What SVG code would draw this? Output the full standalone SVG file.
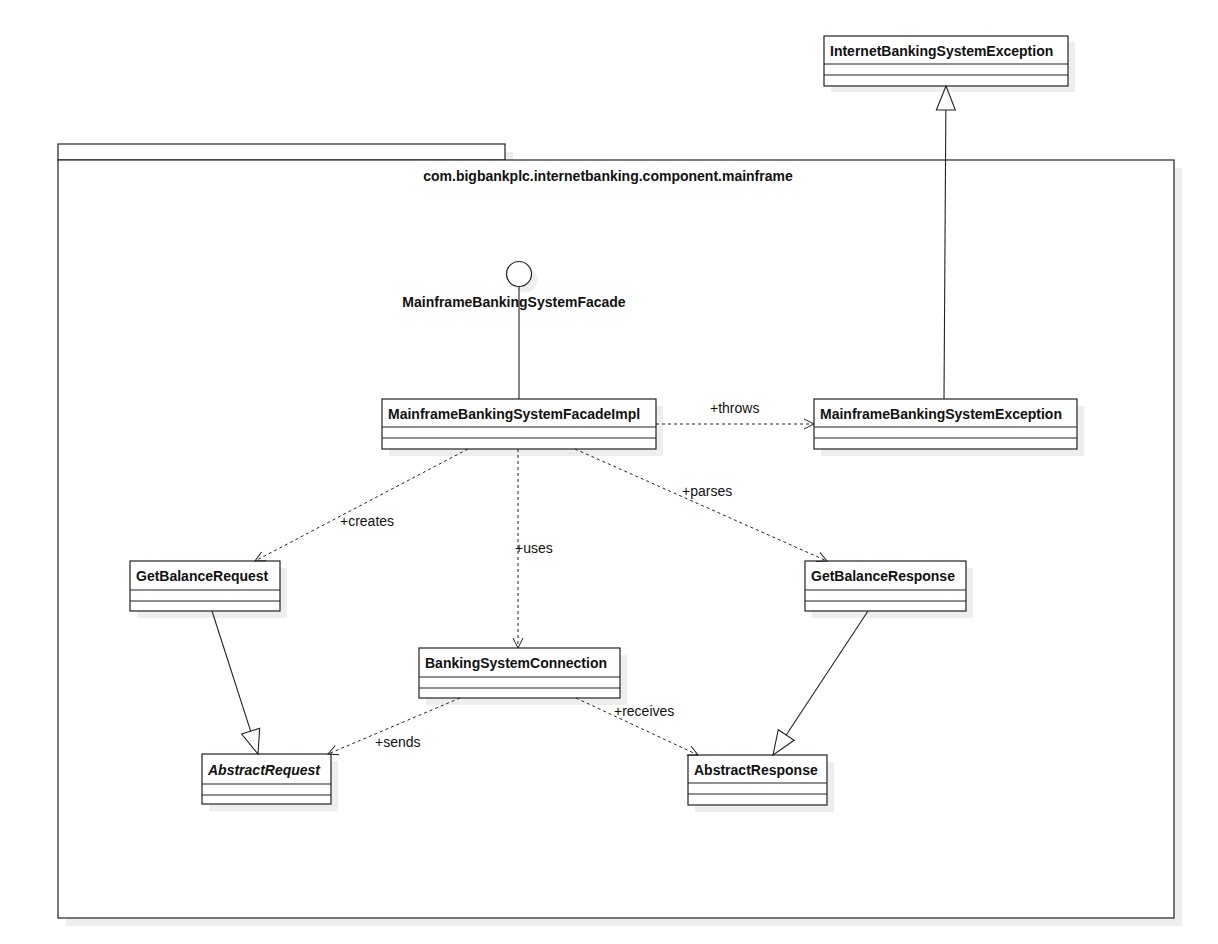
<svg xmlns="http://www.w3.org/2000/svg" width="1218" height="944" viewBox="0 0 1218 944">
<style>
  .shadow { fill: #eeeeee; stroke: none; }
  .box { fill: #ffffff; stroke: #222222; stroke-width: 1.2; }
  .div { stroke: #222222; stroke-width: 1.2; }
  .title { font-family: "Liberation Sans", Arial, sans-serif; font-size: 14px; font-weight: bold; fill: #111111; }
  .italic { font-style: italic; }
  .lbl { font-family: "Liberation Sans", Arial, sans-serif; font-size: 14px; fill: #111111; }
  .dep { fill: none; stroke: #222222; stroke-width: 1; stroke-dasharray: 3,3; marker-end: url(#open); }
  .gen { fill: none; stroke: #222222; stroke-width: 1.1; marker-end: url(#tri); }
  .real { fill: none; stroke: #222222; stroke-width: 1.1; }
</style>
<defs>
  <marker id="open" markerUnits="userSpaceOnUse" markerWidth="14" markerHeight="14" refX="11" refY="6" orient="auto">
    <path d="M1,1 L11,6 L1,11" fill="none" stroke="#222222" stroke-width="1"/>
  </marker>
  <marker id="tri" markerUnits="userSpaceOnUse" markerWidth="28" markerHeight="24" refX="25" refY="11" orient="auto">
    <path d="M1,1.5 L25,11 L1,20.5 Z" fill="#ffffff" stroke="#222222" stroke-width="1.1"/>
  </marker>
</defs>
<rect width="1218" height="944" fill="#ffffff"/>

<g id="package">
  <rect class="shadow" x="66" y="152" width="447" height="16"/>
  <rect class="shadow" x="66" y="168" width="1116" height="758"/>
  <rect class="box" x="58" y="144" width="447" height="16"/>
  <rect class="box" x="58" y="160" width="1116" height="758"/>
  <text class="title" x="608" y="181" text-anchor="middle">com.bigbankplc.internetbanking.component.mainframe</text>
</g>

<g id="InternetBankingSystemException">
  <rect class="shadow" x="831" y="42" width="244" height="50"/>
  <rect class="box" x="824" y="36" width="244" height="50"/>
  <line class="div" x1="824" y1="64" x2="1068" y2="64"/>
  <line class="div" x1="824" y1="75" x2="1068" y2="75"/>
  <text class="title" x="830" y="56">InternetBankingSystemException</text>
</g>

<g id="MainframeBankingSystemFacade">
  <circle cx="525" cy="280" r="12.5" fill="#eeeeee"/>
  <circle cx="519" cy="274" r="12.5" fill="#ffffff" stroke="#222222" stroke-width="1.2"/>
  <text class="title" x="514" y="307" text-anchor="middle">MainframeBankingSystemFacade</text>
</g>

<g id="MainframeBankingSystemFacadeImpl">
  <rect class="shadow" x="389" y="406" width="274" height="50"/>
  <rect class="box" x="382" y="399" width="274" height="50"/>
  <line class="div" x1="382" y1="427" x2="656" y2="427"/>
  <line class="div" x1="382" y1="438" x2="656" y2="438"/>
  <text class="title" x="388" y="419">MainframeBankingSystemFacadeImpl</text>
</g>

<g id="MainframeBankingSystemException">
  <rect class="shadow" x="821" y="406" width="263" height="50"/>
  <rect class="box" x="814" y="399" width="263" height="50"/>
  <line class="div" x1="814" y1="427" x2="1077" y2="427"/>
  <line class="div" x1="814" y1="438" x2="1077" y2="438"/>
  <text class="title" x="820" y="419">MainframeBankingSystemException</text>
</g>

<g id="GetBalanceRequest">
  <rect class="shadow" x="137" y="568" width="150" height="50"/>
  <rect class="box" x="130" y="561" width="150" height="50"/>
  <line class="div" x1="130" y1="590" x2="280" y2="590"/>
  <line class="div" x1="130" y1="601" x2="280" y2="601"/>
  <text class="title" x="136" y="581">GetBalanceRequest</text>
</g>

<g id="GetBalanceResponse">
  <rect class="shadow" x="812" y="568" width="161" height="50"/>
  <rect class="box" x="805" y="561" width="161" height="50"/>
  <line class="div" x1="805" y1="590" x2="966" y2="590"/>
  <line class="div" x1="805" y1="601" x2="966" y2="601"/>
  <text class="title" x="811" y="581">GetBalanceResponse</text>
</g>

<g id="BankingSystemConnection">
  <rect class="shadow" x="426" y="655" width="201" height="50"/>
  <rect class="box" x="419" y="648" width="201" height="50"/>
  <line class="div" x1="419" y1="677" x2="620" y2="677"/>
  <line class="div" x1="419" y1="688" x2="620" y2="688"/>
  <text class="title" x="425" y="668">BankingSystemConnection</text>
</g>

<g id="AbstractRequest">
  <rect class="shadow" x="209" y="761" width="129" height="50"/>
  <rect class="box" x="202" y="754" width="129" height="50"/>
  <line class="div" x1="202" y1="784" x2="331" y2="784"/>
  <line class="div" x1="202" y1="795" x2="331" y2="795"/>
  <text class="title italic" x="208" y="775">AbstractRequest</text>
</g>

<g id="AbstractResponse">
  <rect class="shadow" x="695" y="762" width="139" height="50"/>
  <rect class="box" x="688" y="755" width="139" height="50"/>
  <line class="div" x1="688" y1="783" x2="827" y2="783"/>
  <line class="div" x1="688" y1="794" x2="827" y2="794"/>
  <text class="title" x="694" y="775">AbstractResponse</text>
</g>

<g id="connectors">
  <line class="real" x1="519" y1="286.5" x2="519" y2="399"/>
  <line class="gen" x1="944" y1="399" x2="946" y2="86"/>
  <line class="dep" x1="656" y1="424" x2="814" y2="424"/>
  <line class="dep" x1="468" y1="449" x2="255" y2="561"/>
  <line class="dep" x1="518" y1="449" x2="518" y2="648"/>
  <line class="dep" x1="575" y1="449" x2="827" y2="561"/>
  <line class="dep" x1="460" y1="698" x2="328" y2="754"/>
  <line class="dep" x1="576" y1="698" x2="698" y2="755"/>
  <line class="gen" x1="212" y1="611" x2="258" y2="754"/>
  <line class="gen" x1="868" y1="611" x2="773" y2="755"/>
  <text class="lbl" x="710" y="413">+throws</text>
  <text class="lbl" x="340" y="526">+creates</text>
  <text class="lbl" x="515" y="553">+uses</text>
  <text class="lbl" x="682" y="496">+parses</text>
  <text class="lbl" x="375" y="747">+sends</text>
  <text class="lbl" x="614" y="716">+receives</text>
</g>
</svg>
